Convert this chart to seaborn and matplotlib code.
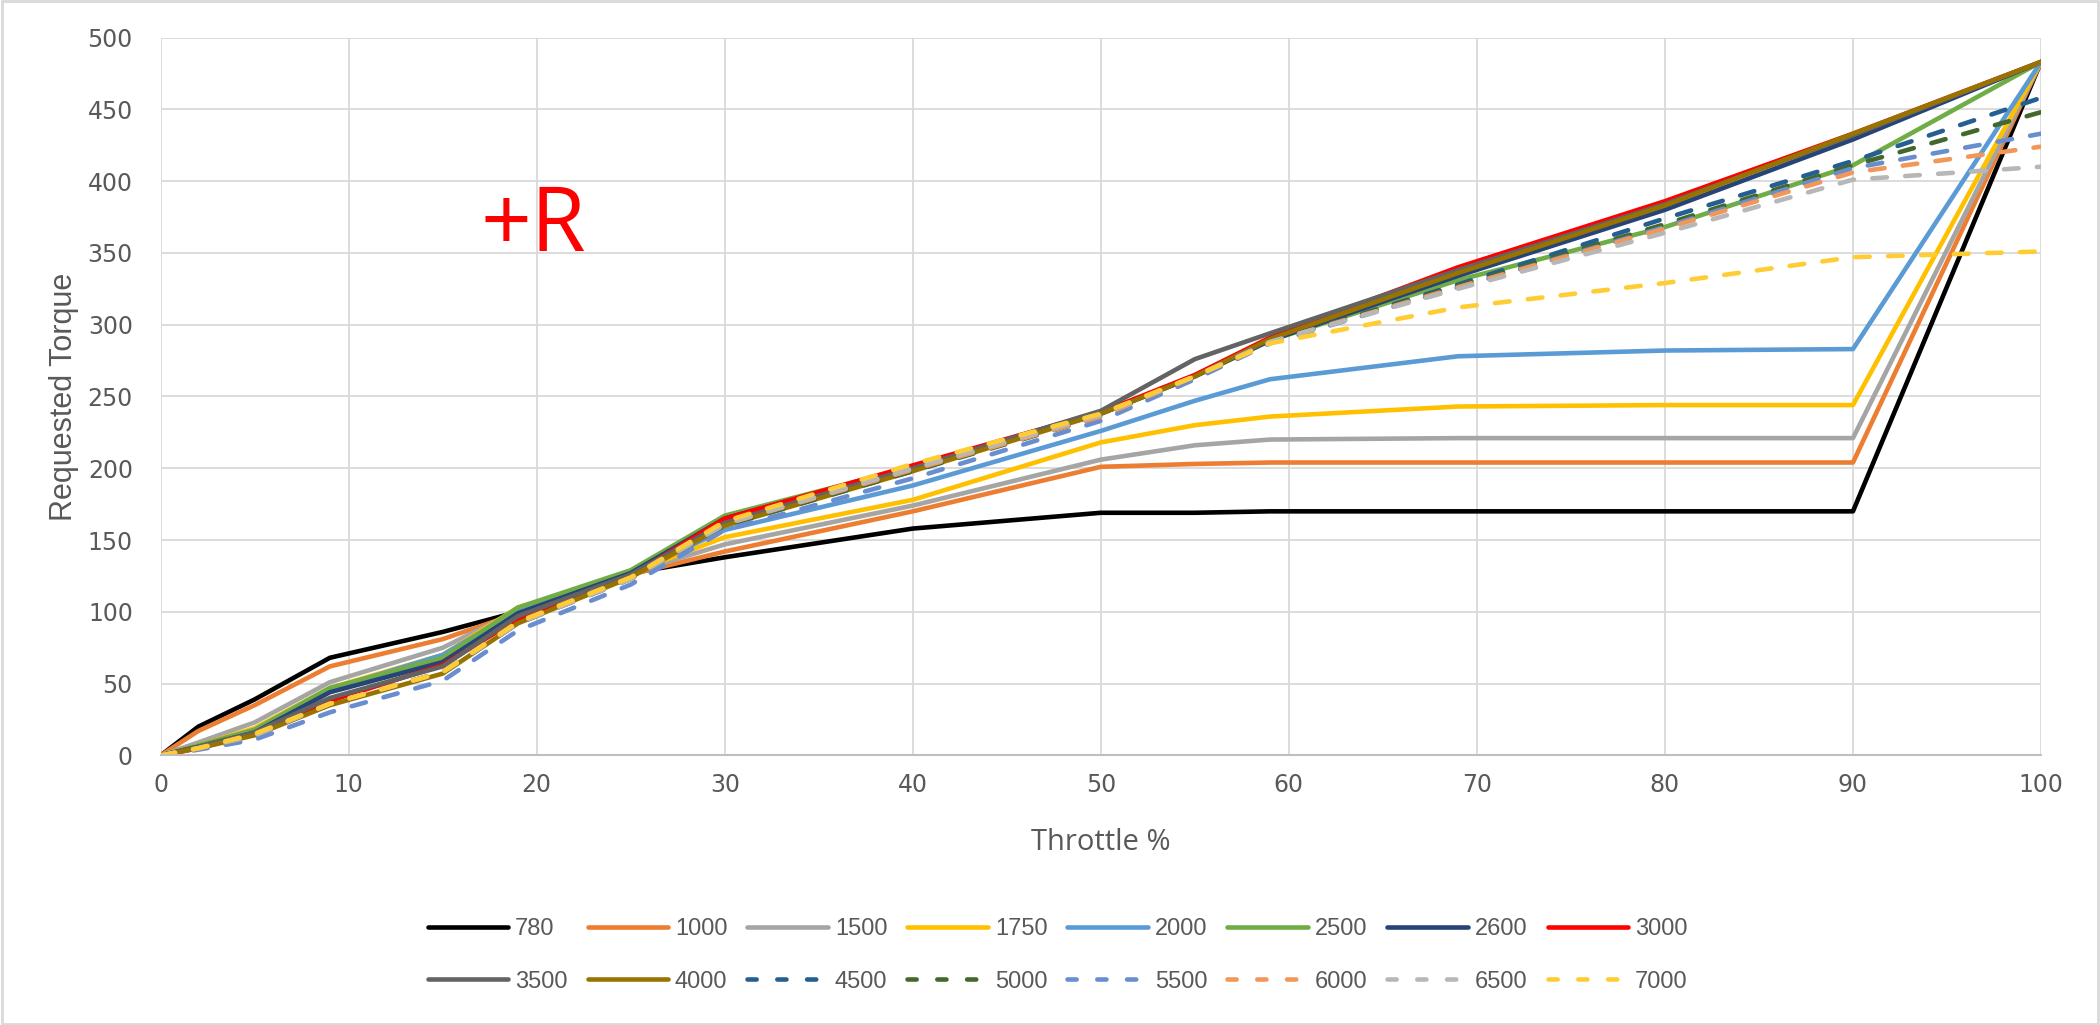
import pandas as pd
import matplotlib.pyplot as plt
import seaborn as sns
from matplotlib import font_manager
from matplotlib.patches import Rectangle

# 数据
throttle = [0, 2, 5, 9, 15, 19, 25, 30, 40, 50, 55, 59, 69, 80, 90, 100]
rpm_labels = ['780', '1000', '1500', '1750', '2000', '2500', '2600', '3000',
              '3500', '4000', '4500', '5000', '5500', '6000', '6500', '7000']

t780 = [0, 20, 39, 68, 86, 100, 127, 138, 158, 169, 169, 170, 170, 170, 170, 483]
t1000 = [0, 17, 35, 62, 81, 99, 126, 142, 170, 201, 203, 204, 204, 204, 204, 483]
t1500 = [0, 9, 23, 51, 75, 101, 127, 147, 174, 206, 216, 220, 221, 221, 221, 483]
t1750 = [0, 7, 19, 47, 70, 103, 127, 152, 178, 218, 230, 236, 243, 244, 244, 483]
t2000 = [0, 6, 17, 46, 70, 101, 127, 157, 188, 226, 247, 262, 278, 282, 283, 483]
t2500 = [0, 7, 18, 47, 68, 103, 129, 167, 201, 238, 264, 289, 331, 368, 411, 483]
t2600 = [0, 6, 16, 44, 65, 99, 127, 165, 201, 238, 264, 289, 334, 380, 429, 483]
t3000 = [0, 5, 15, 38, 63, 95, 125, 165, 202, 239, 265, 291, 340, 386, 433, 483]
t3500 = [0, 6, 16, 40, 62, 97, 126, 162, 200, 240, 276, 294, 338, 384, 432, 483]
t4000 = [0, 5, 14, 35, 57, 92, 124, 160, 198, 238, 264, 290, 336, 383, 433, 483]
t4500 = [0, 5, 14, 36, 58, 92, 123, 161, 199, 237, 264, 288, 328, 374, 414, 458]
t5000 = [0, 5, 14, 36, 58, 92, 123, 160, 198, 236, 264, 288, 327, 370, 411, 448]
t5500 = [0, 4, 11, 30, 52, 87, 119, 157, 193, 233, 262, 287, 326, 368, 409, 433]
t6000 = [0, 5, 14, 36, 58, 92, 123, 161, 199, 236, 264, 288, 326, 367, 406, 424]
t6500 = [0, 5, 14, 36, 58, 92, 123, 161, 200, 237, 264, 288, 325, 364, 401, 410]
t7000 = [0, 5, 15, 36, 58, 93, 124, 163, 203, 238, 264, 287, 312, 329, 347, 351]

series = [t780, t1000, t1500, t1750, t2000, t2500, t2600, t3000,
          t3500, t4000, t4500, t5000, t5500, t6000, t6500, t7000]

colors = ['#000000', '#ED7D31', '#A5A5A5', '#FFC000', '#5B9BD5', '#70AD47', '#264478', '#FF0000',
          '#636363', '#997300', '#255E91', '#43682B', '#698ED0', '#F1975A', '#B7B7B7', '#FFCD33']

rows = []
for lab, vals in zip(rpm_labels, series):
    for x, y in zip(throttle, vals):
        rows.append({'throttle': x, 'torque': y, 'rpm': lab})
df = pd.DataFrame(rows)

palette = dict(zip(rpm_labels, colors))
dashes = {lab: ('' if i < 10 else (3.2, 4.0)) for i, lab in enumerate(rpm_labels)}

sns.set_theme(style='white')
names = {f.name for f in font_manager.fontManager.ttflist}
narrow = 'Liberation Sans Narrow' if 'Liberation Sans Narrow' in names else 'Liberation Sans'
plt.rcParams['font.family'] = ['DejaVu Sans']

fig = plt.figure(figsize=(21, 10.25), dpi=100)
ax = fig.add_axes([0.0765, 0.263, 0.8954, 0.7004])

sns.lineplot(data=df, x='throttle', y='torque', hue='rpm', style='rpm',
             hue_order=rpm_labels, style_order=rpm_labels,
             palette=palette, dashes=dashes, linewidth=3.3, ax=ax, legend=False)

for line in ax.lines:
    line.set_dash_capstyle('round')
    line.set_solid_capstyle('round')
    line.set_solid_joinstyle('round')

ax.set_xlim(0, 100)
ax.set_ylim(0, 500)
ax.set_xticks(range(0, 101, 10))
ax.set_yticks(range(0, 501, 50))
ax.grid(True, color='#D9D9D9', linewidth=1.3)
ax.set_axisbelow(True)
for s in ['top', 'right', 'left']:
    ax.spines[s].set_visible(False)
ax.spines['bottom'].set_color('#BFBFBF')
ax.spines['bottom'].set_linewidth(1.5)
ax.tick_params(axis='both', length=0, labelsize=17, labelcolor='#595959')
ax.tick_params(axis='y', pad=20)
ax.tick_params(axis='x', pad=13)

ax.set_xlabel('Throttle %', fontsize=21, color='#595959', family='Open Sans', labelpad=22)
ax.set_ylabel('Requested Torque', fontsize=22, color='#595959', family=narrow, labelpad=6)

ax.text(19.8, 351, '+R', color='#FF0000', fontsize=64, family='Open Sans',
        ha='center', va='baseline')

# 图例按行排列
handles = [plt.Line2D([], [], color=c, linewidth=3.3,
                      linestyle='-' if i < 10 else (0, (2.0, 4.5)),
                      dash_capstyle='round', solid_capstyle='round')
           for i, c in enumerate(colors)]
order = [i + 8 * r for i in range(8) for r in range(2)]
fig.legend([handles[k] for k in order], [rpm_labels[k] for k in order],
           loc='center', bbox_to_anchor=(0.5036, 0.068),
           ncol=8, frameon=False, prop={'family': narrow, 'size': 17},
           labelcolor='#595959', handlelength=3.4, handletextpad=0.3,
           columnspacing=0.85, labelspacing=1.3)

fig.patches.append(Rectangle((0.001, 0.001), 0.998, 0.998, transform=fig.transFigure,
                             fill=False, edgecolor='#D9D9D9', linewidth=2))

fig.savefig('out.png', dpi=100, facecolor='white')
